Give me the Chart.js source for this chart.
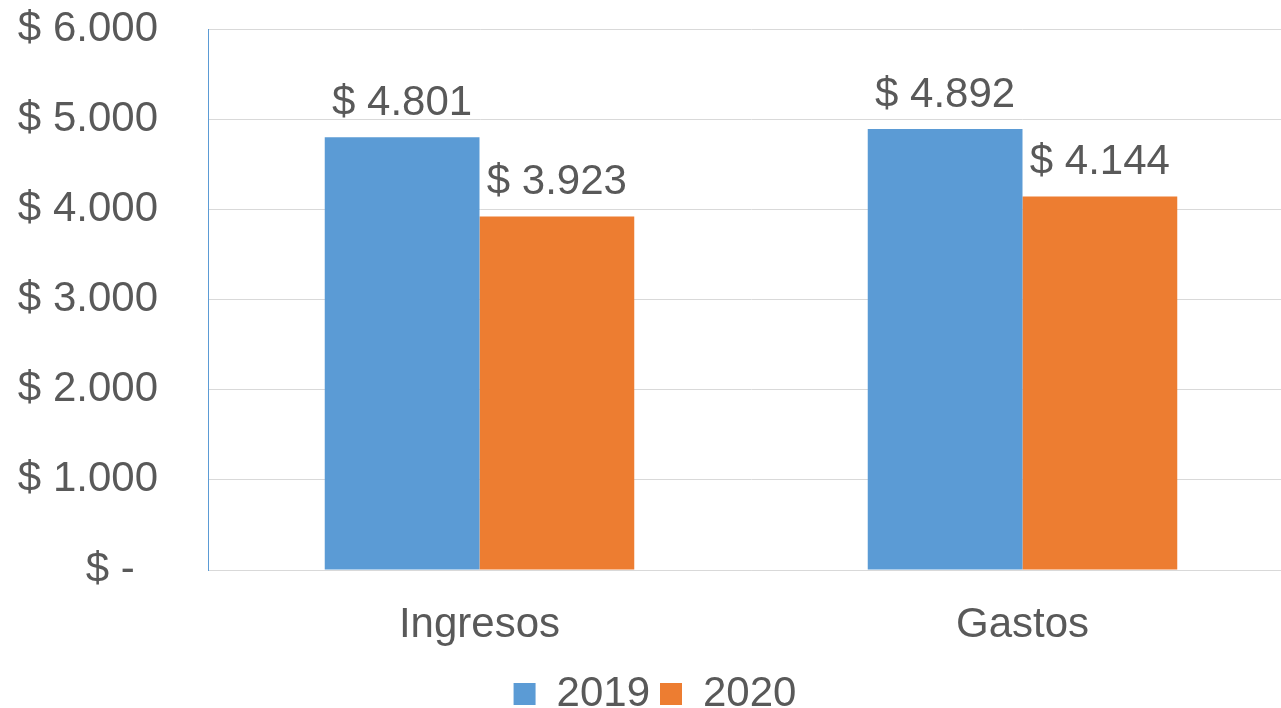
<!DOCTYPE html>
<html>
<head>
<meta charset="utf-8">
<script src="https://cdn.jsdelivr.net/npm/chart.js@4/dist/chart.umd.min.js"></script>
<style>
  html, body { margin: 0; padding: 0; background: #fff; overflow: hidden; }
  #wrap { width: 1294px; height: 771px; margin-top: -46px; }
</style>
</head>
<body>
<div id="wrap"><canvas id="c"></canvas></div>
<script>
// ingresos vs gastos, 2019 / 2020
const categories = ['Ingresos', 'Gastos'];
const series2019 = [4801, 4892];
const series2020 = [3923, 4144];
const yTicks = [0, 1000, 2000, 3000, 4000, 5000, 6000];

const TEXT = '#595959';
const FONT = '"Liberation Sans", Arial, sans-serif';
const SIZE = 42;

function fmt(v) {
  if (v === 0) return '$ -  ';
  return '$ ' + v.toLocaleString('de-DE');
}

// values above bars
const barLabels = {
  id: 'barLabels',
  afterDatasetsDraw(chart) {
    const ctx = chart.ctx;
    ctx.save();
    ctx.fillStyle = TEXT;
    ctx.font = SIZE + 'px ' + FONT;
    ctx.textAlign = 'center';
    ctx.textBaseline = 'alphabetic';
    chart.data.datasets.forEach((ds, i) => {
      chart.getDatasetMeta(i).data.forEach((bar, j) => {
        ctx.fillText(fmt(ds.data[j]), bar.x, bar.y - 22);
      });
    });
    ctx.restore();
  }
};

new Chart(document.getElementById('c'), {
  type: 'bar',
  data: {
    labels: categories,
    datasets: [
      { label: '2019', data: series2019, backgroundColor: '#5b9bd5', borderWidth: 0 },
      { label: '2020', data: series2020, backgroundColor: '#ed7d31', borderWidth: 0 }
    ]
  },
  options: {
    responsive: true,
    maintainAspectRatio: false,
    animation: false,
    events: [],
    layout: { padding: { left: 16, right: 0, top: 0, bottom: 0 } },
    datasets: { bar: { barPercentage: 1, categoryPercentage: 0.57 } },
    plugins: {
      legend: {
        position: 'bottom',
        labels: {
          color: TEXT,
          font: { family: FONT, size: SIZE },
          boxWidth: 22,
          boxHeight: 22,
          padding: 10
        }
      },
      tooltip: { enabled: false }
    },
    scales: {
      x: {
        grid: { display: false, drawTicks: false },
        border: { color: '#d9d9d9', width: 1 },
        ticks: { color: TEXT, font: { family: FONT, size: SIZE }, padding: 30 },
        afterFit: s => { s.height = 93; }
      },
      y: {
        min: 0,
        max: 6000,
        afterBuildTicks: s => { s.ticks = yTicks.map(v => ({ value: v })); },
        grid: { color: '#d9d9d9', drawTicks: false },
        border: { color: '#5b9bd5', width: 1 },
        ticks: { color: TEXT, font: { family: FONT, size: SIZE }, padding: 50, callback: v => fmt(v) },
        afterFit: s => { s.width = 192; }
      }
    }
  },
  plugins: [barLabels]
});
</script>
</body>
</html>
